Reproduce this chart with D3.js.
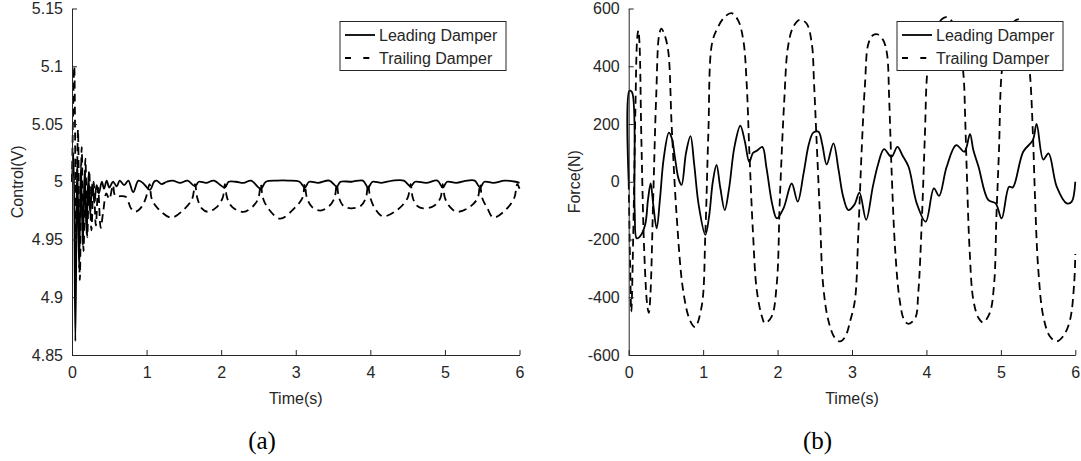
<!DOCTYPE html>
<html>
<head>
<meta charset="utf-8">
<script src="https://cdnjs.cloudflare.com/ajax/libs/d3/7.8.5/d3.min.js"></script>
<style>
  body { margin: 0; background: #fff; }
  svg text { font-family: "Liberation Sans", Arial, sans-serif; fill: #262626; }
  .tag { font-family: "Liberation Serif", "DejaVu Serif", serif; fill: #000; }
</style>
</head>
<body>
<div id="chart"></div>
<script>
// ---- data ----
var timeTicks = [0, 1, 2, 3, 4, 5, 6];
var ctrlTicks = [4.85, 4.9, 4.95, 5, 5.05, 5.1, 5.15];
var forceTicks = [-600, -400, -200, 0, 200, 400, 600];
var seriesNames = ["Leading Damper", "Trailing Damper"];

// (a) control voltage, [time, volts]
var ctrlLead = [
  [0.00, 5.000], [0.02, 5.025], [0.045, 4.862], [0.07, 5.020], [0.095, 4.925], [0.12, 5.015],
  [0.145, 4.945], [0.17, 5.010], [0.195, 4.955], [0.22, 5.005], [0.245, 4.972], [0.27, 4.998],
  [0.30, 4.982], [0.33, 4.997], [0.36, 4.990], [0.40, 5.000], [0.43, 4.994], [0.465, 5.001],
  [0.50, 4.995], [0.55, 5.000], [0.60, 4.996], [0.64, 5.001], [0.70, 4.997], [0.755, 5.001],
  [0.82, 4.991], [0.89, 5.001], [0.95, 4.999], [1.045, 4.993], [1.10, 5.000], [1.135, 5.001],
  [1.20, 4.998], [1.27, 5.000], [1.35, 5.001], [1.45, 4.999], [1.55, 5.001], [1.65, 4.996],
  [1.70, 5.000], [1.80, 4.999], [1.90, 5.001], [2.05, 4.995], [2.10, 5.000], [2.20, 5.000],
  [2.30, 4.999], [2.40, 5.001], [2.53, 4.994], [2.60, 5.000], [2.75, 5.001], [2.90, 5.001],
  [3.05, 5.000], [3.12, 4.995], [3.18, 5.000], [3.30, 4.999], [3.45, 5.001], [3.55, 4.996],
  [3.60, 5.000], [3.75, 5.000], [3.90, 5.001], [3.97, 4.995], [4.03, 5.000], [4.15, 4.999],
  [4.30, 5.001], [4.45, 5.001], [4.54, 4.996], [4.60, 5.000], [4.75, 4.999], [4.90, 5.001],
  [4.97, 4.995], [5.03, 5.000], [5.15, 4.999], [5.30, 5.001], [5.40, 5.001], [5.47, 4.995],
  [5.53, 5.000], [5.65, 4.999], [5.80, 5.001], [5.95, 5.000], [6.00, 4.999]
];
var ctrlTrail = [
  [0.00, 5.000], [0.03, 5.100], [0.055, 4.950], [0.08, 5.045], [0.105, 4.915], [0.13, 5.030],
  [0.155, 4.940], [0.18, 5.020], [0.205, 4.952], [0.23, 5.010], [0.26, 4.958], [0.29, 5.000],
  [0.32, 4.962], [0.35, 4.995], [0.385, 4.960], [0.42, 4.975], [0.46, 4.990], [0.50, 4.985],
  [0.55, 4.997], [0.58, 4.988], [0.72, 4.987], [0.79, 4.977], [0.85, 4.974], [0.93, 4.978],
  [0.99, 4.986], [1.04, 4.998], [1.07, 4.985], [1.15, 4.977], [1.33, 4.969], [1.50, 4.976],
  [1.61, 4.985], [1.65, 4.998], [1.68, 4.986], [1.74, 4.977], [1.82, 4.974], [1.94, 4.978],
  [2.02, 4.986], [2.05, 4.998], [2.08, 4.986], [2.15, 4.978], [2.30, 4.974], [2.43, 4.979],
  [2.50, 4.986], [2.53, 4.998], [2.56, 4.986], [2.63, 4.977], [2.79, 4.968], [2.98, 4.977],
  [3.09, 4.986], [3.12, 4.998], [3.15, 4.986], [3.22, 4.978], [3.33, 4.975], [3.45, 4.979],
  [3.52, 4.986], [3.55, 4.998], [3.58, 4.986], [3.64, 4.979], [3.74, 4.977], [3.87, 4.979],
  [3.94, 4.986], [3.97, 4.998], [4.00, 4.986], [4.07, 4.976], [4.17, 4.970], [4.37, 4.976],
  [4.50, 4.986], [4.54, 4.998], [4.57, 4.986], [4.63, 4.979], [4.71, 4.977], [4.85, 4.979],
  [4.94, 4.986], [4.97, 4.998], [5.00, 4.986], [5.07, 4.978], [5.16, 4.974], [5.33, 4.978],
  [5.44, 4.986], [5.47, 4.998], [5.50, 4.986], [5.57, 4.977], [5.65, 4.969], [5.82, 4.976],
  [5.93, 4.986], [5.97, 4.998], [6.00, 4.994]
];

// (b) damper force, [time, newtons]
var forceLead = [
  [0.00, 0], [0.01, 315], [0.045, 310], [0.08, -100], [0.107, -196], [0.15, -190], [0.22, -150],
  [0.26, -60], [0.295, -6], [0.33, -80], [0.376, -161], [0.42, -60], [0.47, 80], [0.54, 170],
  [0.58, 150], [0.62, 86], [0.67, 10], [0.71, -11], [0.77, 100], [0.83, 158], [0.88, 60],
  [0.94, -80], [1.03, -184], [1.08, -120], [1.13, 0], [1.18, 58], [1.23, -20], [1.29, -98],
  [1.35, -20], [1.42, 120], [1.50, 194], [1.56, 140], [1.62, 69], [1.67, 100], [1.72, 107],
  [1.795, 121], [1.85, 50], [1.93, -80], [1.99, -127], [2.08, -92], [2.19, -6], [2.27, -69],
  [2.35, 30], [2.42, 130], [2.48, 170], [2.55, 173], [2.60, 130], [2.66, 60], [2.75, 133],
  [2.82, 40], [2.88, -50], [2.95, -98], [3.03, -80], [3.10, -38], [3.19, -132], [3.28, -17],
  [3.35, 60], [3.43, 113], [3.53, 86], [3.61, 121], [3.68, 90], [3.76, 52], [3.87, -75],
  [3.99, -138], [4.10, -23], [4.17, -49], [4.27, 50], [4.40, 127], [4.51, 104], [4.585, 165],
  [4.63, 110], [4.70, 52], [4.83, -63], [4.93, -75], [5.01, -127], [5.11, -17], [5.16, -20],
  [5.30, 104], [5.43, 144], [5.48, 200], [5.57, 77], [5.64, 98], [5.75, -17], [5.885, -75],
  [5.95, -70], [6.00, 0]
];
var forceTrail = [
  [0.00, 0], [0.02, -300], [0.035, -450], [0.06, -200], [0.09, 250], [0.115, 500], [0.13, 524],
  [0.145, 480], [0.17, 150], [0.21, -250], [0.25, -430], [0.27, -454], [0.29, -400], [0.33, -50],
  [0.37, 300], [0.41, 510], [0.44, 530], [0.48, 510], [0.53, 455], [0.578, 190], [0.645, -121],
  [0.73, -374], [0.82, -478], [0.89, -503], [0.98, -432], [1.03, -178], [1.07, 167], [1.12, 480],
  [1.20, 536], [1.29, 571], [1.38, 584], [1.47, 559], [1.54, 490], [1.585, 340], [1.62, 110],
  [1.67, -178], [1.72, -374], [1.79, -467], [1.83, -490], [1.92, -467], [1.99, -351], [2.03, -63],
  [2.09, 282], [2.14, 467], [2.21, 536], [2.30, 561], [2.39, 548], [2.46, 478], [2.49, 341],
  [2.52, 168], [2.57, -121], [2.61, -351], [2.68, -478], [2.77, -541], [2.84, -553], [2.91, -536],
  [2.98, -478], [3.04, -409], [3.085, -178], [3.13, 110], [3.175, 340], [3.22, 478], [3.285, 508],
  [3.35, 510], [3.42, 490], [3.47, 444], [3.50, 282], [3.53, 52], [3.58, -236], [3.64, -409],
  [3.70, -478], [3.76, -492], [3.85, -472], [3.89, -386], [3.94, -121], [3.98, 167], [4.01, 375],
  [4.07, 490], [4.16, 550], [4.27, 570], [4.37, 545], [4.45, 470], [4.50, 363], [4.52, 225],
  [4.54, 52], [4.58, -236], [4.63, -409], [4.70, -472], [4.76, -487], [4.85, -455], [4.91, -351],
  [4.94, -121], [4.975, 110], [5.01, 375], [5.08, 500], [5.16, 550], [5.24, 562], [5.32, 530],
  [5.39, 375], [5.43, 168], [5.46, -63], [5.50, -294], [5.57, -467], [5.66, -536], [5.75, -553],
  [5.85, -530], [5.93, -478], [5.985, -351], [6.00, -250]
];

// ---- layout ----
var svgWidth = 1081;
var svgHeight = 461;
var plotTop = 8.5;
var plotBottom = 355;

var svg = d3.select("#chart").append("svg")
    .attr("width", svgWidth)
    .attr("height", svgHeight);

var panels = [
  { left: 72, right: 519.5, yDomain: [4.85, 5.15], yTicks: ctrlTicks,
    lead: ctrlLead, trail: ctrlTrail, yLabel: "Control(V)", tag: "(a)", tagX: 262, legendX: 340,
    fmt: function(d) { return String(+d.toFixed(2)); } },
  { left: 628.7, right: 1075.3, yDomain: [-600, 600], yTicks: forceTicks,
    lead: forceLead, trail: forceTrail, yLabel: "Force(N)", tag: "(b)", tagX: 817.5, legendX: 897,
    fmt: function(d) { return String(d); } }
];

panels.forEach(function(p) {
  var xScale = d3.scaleLinear().domain([0, 6]).range([p.left, p.right]);
  var yScale = d3.scaleLinear().domain(p.yDomain).range([plotBottom, plotTop]);

  var g = svg.append("g");

  var line = d3.line()
      .x(function(d) { return xScale(d[0]); })
      .y(function(d) { return yScale(d[1]); })
      .curve(d3.curveCatmullRom.alpha(0.5));

  // trailing damper (dashed) under the leading one
  g.append("path")
      .datum(p.trail)
      .attr("d", line)
      .attr("fill", "none")
      .attr("stroke", "#000")
      .attr("stroke-width", 1.8)
      .attr("stroke-dasharray", "8,5");

  g.append("path")
      .datum(p.lead)
      .attr("d", line)
      .attr("fill", "none")
      .attr("stroke", "#000")
      .attr("stroke-width", 1.8)
      .attr("stroke-linejoin", "round");

  // axes, ticks pointing inward like matlab
  var xAxis = d3.axisBottom(xScale).tickValues(timeTicks).tickFormat(d3.format("d"))
      .tickSizeInner(-5).tickSizeOuter(0).tickPadding(12);
  var yAxis = d3.axisLeft(yScale).tickValues(p.yTicks).tickSizeInner(-5).tickSizeOuter(0).tickPadding(9)
      .tickFormat(p.fmt);

  var gx = g.append("g").attr("transform", "translate(0," + plotBottom + ")").call(xAxis);
  var gy = g.append("g").attr("transform", "translate(" + p.left + ",0)").call(yAxis);
  [gx, gy].forEach(function(a) {
    a.select(".domain").attr("stroke", "#262626");
    a.selectAll(".tick line").attr("stroke", "#262626");
    a.selectAll("text").attr("font-size", "16px").attr("fill", "#262626")
        .attr("font-family", "Liberation Sans, Arial, sans-serif");
  });

  // axis titles
  g.append("text")
      .attr("x", (p.left + p.right) / 2)
      .attr("y", 404)
      .attr("text-anchor", "middle")
      .attr("font-size", "16px")
      .text("Time(s)");

  g.append("text")
      .attr("transform", "translate(" + (p.left - 49) + "," + ((plotTop + plotBottom) / 2) + ") rotate(-90)")
      .attr("text-anchor", "middle")
      .attr("font-size", "16px")
      .text(p.yLabel);

  // subfigure tag
  g.append("text")
      .attr("class", "tag")
      .attr("x", p.tagX)
      .attr("y", 449)
      .attr("text-anchor", "middle")
      .attr("font-size", "25px")
      .text(p.tag);

  // legend
  var lg = g.append("g").attr("transform", "translate(" + p.legendX + ",21.5)");
  lg.append("rect")
      .attr("width", 166)
      .attr("height", 49)
      .attr("fill", "#fff")
      .attr("stroke", "#262626")
      .attr("stroke-width", 1);

  seriesNames.forEach(function(name, i) {
    var yy = 13.5 + i * 23;
    lg.append("line")
        .attr("x1", 5).attr("x2", 35)
        .attr("y1", yy).attr("y2", yy)
        .attr("stroke", "#000")
        .attr("stroke-width", 1.8)
        .attr("stroke-dasharray", i === 0 ? null : "6,12.3");
    lg.append("text")
        .attr("x", 39)
        .attr("y", yy + 5.5)
        .attr("font-size", "16px")
        .text(name);
  });
});
</script>
</body>
</html>
